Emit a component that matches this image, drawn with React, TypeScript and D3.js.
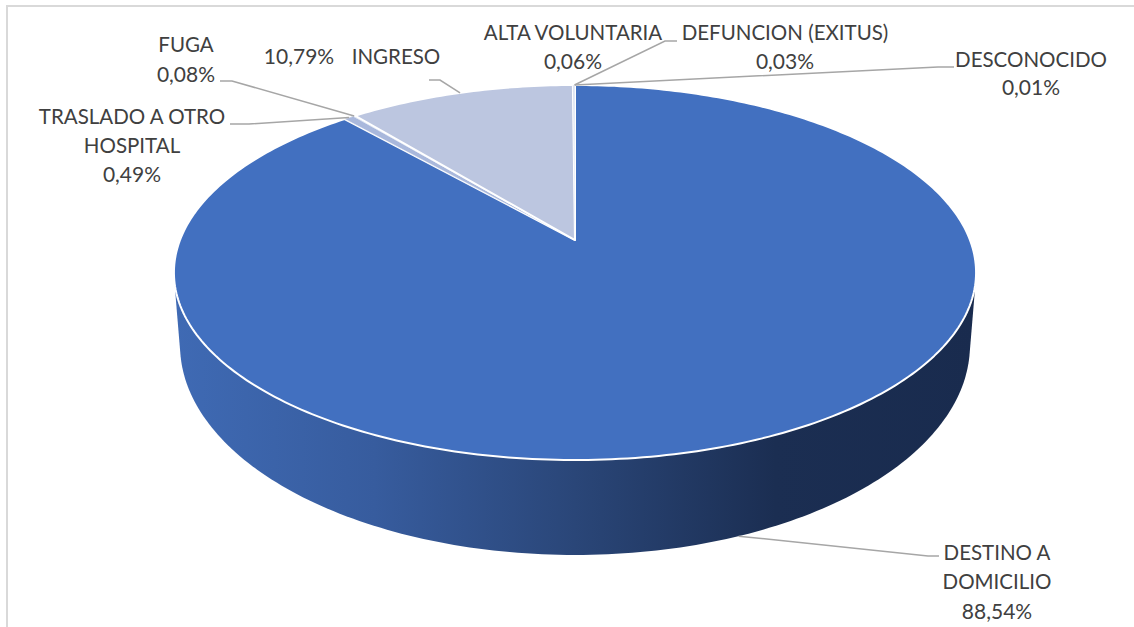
import React, { useEffect, useRef } from 'react'
import * as d3 from 'd3'

const categories = ['DESTINO A DOMICILIO', 'TRASLADO A OTRO HOSPITAL', 'FUGA', 'INGRESO', 'ALTA VOLUNTARIA', 'DEFUNCION (EXITUS)', 'DESCONOCIDO']
const values = [88.54, 0.49, 0.08, 10.79, 0.06, 0.03, 0.01]
const colors = ['#4270c0', '#a9b8dc', '#8faadc', '#bcc6e0', '#bcc6e0', '#4270c0', '#4270c0']

const width = 1134
const height = 627

// perspective of the disc: far edge is squeezed, so the apex sits above the middle of the ellipse
const k = 0.1733
const topRim = { y0: 240, a: 181.9, b: 395 }
const bottomRim = { y0: 308.6, a: 203.7, b: 389 }
const cx = 575

const project = (rim: typeof topRim, angle: number): [number, number] => {
  const u = Math.sin(angle)
  const v = Math.cos(angle)
  const w = 1 + k * v
  return [cx + (rim.b * u) / w, rim.y0 - (rim.a * v) / w]
}

// label layout, one entry per category: text lines, centre x, centre y per line, leader elbows
const labelLayout = [
  { lines: [['DESTINO A', 997, 553], ['DOMICILIO', 997, 582], ['88,54%', 997, 612]], leader: [[939, 556], [928, 556]], rim: 'bottom' },
  { lines: [['TRASLADO A OTRO', 132, 117], ['HOSPITAL', 132, 146], ['0,49%', 132, 175]], leader: [[230, 124], [249, 124]], rim: 'top' },
  { lines: [['FUGA', 186, 45], ['0,08%', 186, 75]], leader: [[220, 81], [232, 81]], rim: 'top' },
  { lines: [['10,79%', 299, 57], ['INGRESO', 396, 57]], leader: [[429, 80], [440, 80]], rim: 'top' },
  { lines: [['ALTA VOLUNTARIA', 573, 33], ['0,06%', 573, 62]], leader: [], rim: 'top' },
  { lines: [['DEFUNCION (EXITUS)', 785, 33], ['0,03%', 785, 62]], leader: [[677, 41], [665, 41]], rim: 'top' },
  { lines: [['DESCONOCIDO', 1031, 60], ['0,01%', 1031, 88]], leader: [[954, 67], [938, 67]], rim: 'top' },
]

export default function App() {
  const ref = useRef<SVGSVGElement>(null)

  useEffect(() => {
    const svg = d3.select(ref.current)
    svg.selectAll('*').remove()

    // chart frame, only top and left edges are in the picture
    svg.append('path')
      .attr('d', `M7,${height}V6H${width}`)
      .attr('fill', 'none')
      .attr('stroke', '#d9d9d9')
      .attr('stroke-width', 2)

    const grad = svg.append('defs').append('linearGradient')
      .attr('id', 'wall')
      .attr('gradientUnits', 'userSpaceOnUse')
      .attr('x1', 174).attr('x2', 976).attr('y1', 0).attr('y2', 0)
    grad.append('stop').attr('offset', '0').attr('stop-color', '#3f6ab4')
    grad.append('stop').attr('offset', '0.25').attr('stop-color', '#375c9e')
    grad.append('stop').attr('offset', '0.5').attr('stop-color', '#2a4678')
    grad.append('stop').attr('offset', '0.75').attr('stop-color', '#1b2e52')
    grad.append('stop').attr('offset', '1').attr('stop-color', '#192b4e')

    const pie = d3.pie<number>().sort(null)
    const slices = pie(values)

    const sweep = d3.range(0, 360, 1).map(d => (d * Math.PI) / 180)
    const rimPoints = sweep.flatMap(a => [project(topRim, a), project(bottomRim, a)])
    const hull = d3.polygonHull(rimPoints) as [number, number][]
    const line = d3.line()

    svg.append('path')
      .attr('d', line(hull) + 'Z')
      .attr('fill', 'url(#wall)')

    svg.selectAll('path.slice')
      .data(slices)
      .enter()
      .append('path')
        .attr('class', 'slice')
        .attr('d', d => {
          const n = Math.max(2, Math.ceil((d.endAngle - d.startAngle) * 60))
          const pts = d3.range(n + 1).map(i => project(topRim, d.startAngle + ((d.endAngle - d.startAngle) * i) / n))
          return line([[cx, topRim.y0], ...pts]) + 'Z'
        })
        .attr('fill', (d, i) => colors[i])
        .attr('stroke', '#fff')
        .attr('stroke-width', d => (d.value < 1 ? 0.6 : 2))
        .attr('stroke-linejoin', 'round')

    // leaders run from the elbow to the slice
    const leaders = svg.append('g')
      .attr('fill', 'none')
      .attr('stroke', '#a6a6a6')
      .attr('stroke-width', 1.5)

    slices.forEach((d, i) => {
      const l = labelLayout[i]
      if (!l.leader.length) return
      const mid = (d.startAngle + d.endAngle) / 2
      const tip = project(l.rim === 'bottom' ? bottomRim : topRim, mid)
      leaders.append('path').attr('d', line([...(l.leader as [number, number][]), tip]))
    })

    const labels = svg.append('g')
      .attr('font-family', 'Lato, sans-serif')
      .attr('font-size', 20.5)
      .attr('fill', '#404040')
      .attr('text-anchor', 'middle')

    labelLayout.forEach(l => {
      labels.selectAll(null)
        .data(l.lines)
        .enter()
        .append('text')
          .attr('x', d => d[1])
          .attr('y', d => d[2])
          .attr('dy', '0.35em')
          .attr('font-size', d => (String(d[0]).endsWith('%') ? 21 : 20.5))
          .text(d => d[0])
    })
  }, [])

  return (
    <svg
      ref={ref}
      width={width}
      height={height}
      aria-label={categories.join(', ')}
      style={{ position: 'absolute', left: 0, top: 0, background: '#fff' }}
    />
  )
}
